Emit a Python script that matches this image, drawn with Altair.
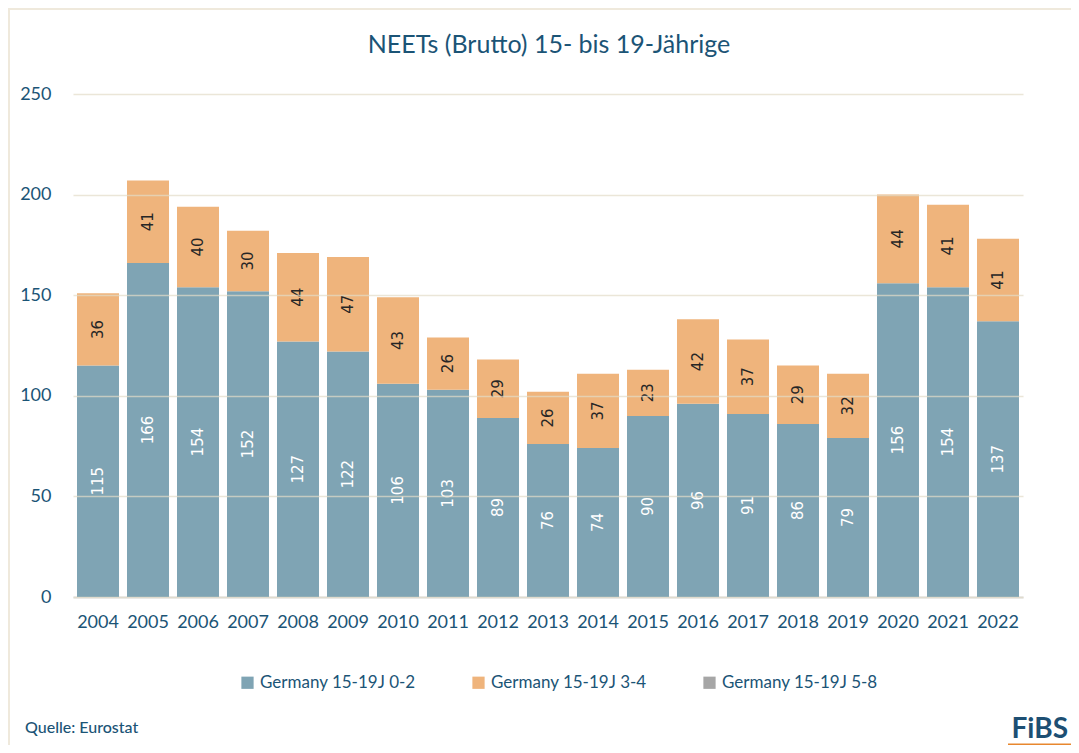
import altair as alt
import pandas as pd

years = [str(y) for y in range(2004, 2023)]
vals_02 = [115, 166, 154, 152, 127, 122, 106, 103, 89, 76, 74, 90, 96, 91, 86, 79, 156, 154, 137]
vals_34 = [36, 41, 40, 30, 44, 47, 43, 26, 29, 26, 37, 23, 42, 37, 29, 32, 44, 41, 41]
series = ["Germany 15-19J 0-2", "Germany 15-19J 3-4", "Germany 15-19J 5-8"]
colors = ["#7fa4b4", "#efb47c", "#a6a6a6"]
y_ticks = [0, 50, 100, 150, 200, 250]
title_text = "NEETs (Brutto) 15- bis 19-Jährige"

TEAL = "#1b5476"
FONT = "Lato"

rows = []
for i, y in enumerate(years):
    rows.append({"year": y, "series": series[0], "value": vals_02[i], "ord": 0})
    rows.append({"year": y, "series": series[1], "value": vals_34[i], "ord": 1})
df = pd.DataFrame(rows)

xenc = alt.X("year:N", title=None, sort=years,
             scale=alt.Scale(paddingInner=0.16, paddingOuter=0.08),
             axis=alt.Axis(labelAngle=0, labelFontSize=18, labelColor=TEAL, labelFont=FONT,
                           ticks=False, domainColor="#d9d9d9", domainWidth=2,
                           labelPadding=16, grid=False))

base = alt.Chart(df)

bars = base.mark_bar().encode(
    x=xenc,
    y=alt.Y("value:Q", stack="zero", title=None,
            scale=alt.Scale(domain=[0, 250], nice=False),
            axis=alt.Axis(values=y_ticks, labelFontSize=18, labelColor=TEAL, labelFont=FONT,
                          ticks=False, domain=False, labelPadding=22,
                          gridColor="#e3dcc8", gridOpacity=0.7, gridWidth=1.5, zindex=1)),
    color=alt.Color("series:N", scale=alt.Scale(domain=series, range=colors),
                    legend=alt.Legend(title=None, orient="none", legendX=166, legendY=580,
                                      direction="horizontal", columns=3, symbolType="square",
                                      symbolSize=150, symbolStrokeWidth=0, labelFontSize=17,
                                      labelColor=TEAL, labelFont=FONT, columnPadding=54,
                                      symbolOpacity=1)),
    order=alt.Order("ord:Q"),
)

labels = base.transform_stack(
    stack="value", groupby=["year"], as_=["y0", "y1"], sort=[alt.SortField("ord")]
).transform_calculate(mid="(datum.y0 + datum.y1) / 2").mark_text(
    angle=270, fontSize=15, font="DejaVu Sans", baseline="middle", align="center"
).encode(
    x=alt.X("year:N", sort=years),
    y=alt.Y("mid:Q"),
    text=alt.Text("value:Q", format=".0f"),
    color=alt.condition(alt.datum.ord == 0, alt.value("white"), alt.value("#262626")),
)

one = alt.Chart(pd.DataFrame({"a": [0]}))
title = one.mark_text(align="center", baseline="middle", fontSize=25, font=FONT,
                      color=TEAL).encode(
    x=alt.value(476), y=alt.value(-49), text=alt.value(title_text))
source = one.mark_text(align="left", baseline="middle", fontSize=16, font=FONT,
                       fontWeight=500, color=TEAL).encode(
    x=alt.value(-48), y=alt.value(634), text=alt.value("Quelle: Eurostat"))
logo = one.mark_text(align="right", baseline="middle", fontSize=28, font=FONT,
                     fontWeight="bold", color="#1d4f73").encode(
    x=alt.value(995), y=alt.value(636), text=alt.value("FiBS"))
logo_bar = one.mark_rule(color="#e8872e", strokeWidth=3).encode(
    x=alt.value(935), x2=alt.value(998), y=alt.value(651))
top_line = one.mark_rule(color="#efe9dc", strokeWidth=2).encode(
    x=alt.value(-65), x2=alt.value(998), y=alt.value(-85))
left_line = one.mark_rule(color="#efe9dc", strokeWidth=2).encode(
    x=alt.value(-64), y=alt.value(-85), y2=alt.value(651))

chart = alt.layer(bars, labels, title, source, logo, logo_bar, top_line, left_line).properties(
    width=950, height=503,
    autosize=alt.AutoSizeParams(type="none"),
    padding={"left": 65, "top": 86, "right": 48, "bottom": 148},
    background="white",
).configure_view(stroke=None)

chart.save("out.html", embed_options={"renderer": "svg", "actions": False})
